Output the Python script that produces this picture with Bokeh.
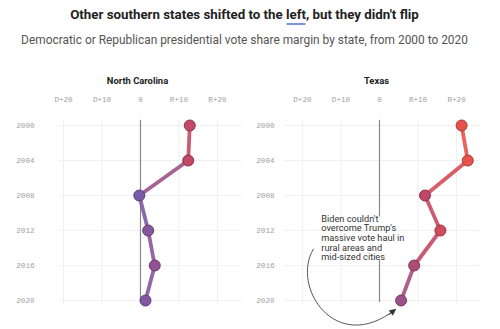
from bokeh.plotting import figure
from bokeh.layouts import column, row
from bokeh.models import Range1d, FixedTicker, Arrow, NormalHead
from bokeh.core.properties import value
from bokeh.embed import file_html
from bokeh.resources import INLINE

# ---------------- data ----------------
years = [2000, 2004, 2008, 2012, 2016, 2020]
nc_margin = [12.8, 12.4, -0.3, 2.0, 3.7, 1.3]   # + = Republican margin
tx_margin = [21.3, 22.9, 11.8, 15.8, 9.0, 5.6]
x_ticks = [-20, -10, 0, 10, 20]
x_tick_labels = ["D+20", "D+10", "0", "R+10", "R+20"]
states = ["North Carolina", "Texas"]
title = "Other southern states shifted to the left, but they didn't flip"
subtitle = "Democratic or Republican presidential vote share margin by state, from 2000 to 2020"
note = ["Biden couldn't", "overcome Trump's", "massive vote haul in", "rural areas and", "mid-sized cities"]

# ---------------- colour scale ----------------
stops = [(0, (122, 90, 168)), (12, (192, 72, 104)), (22, (232, 82, 74))]

def rgb(v):
    v = max(stops[0][0], min(stops[-1][0], v))
    for (a, ca), (b, cb) in zip(stops[:-1], stops[1:]):
        if a <= v <= b:
            t = (v - a) / (b - a)
            return tuple(int(round(ca[k] + t * (cb[k] - ca[k]))) for k in range(3))
    return stops[-1][1]

def hexc(c, f=1.0):
    return "#%02x%02x%02x" % tuple(int(max(0, min(255, x * f))) for x in c)

FONT = value("Roboto")

# ---------------- header ----------------
HEADER_H = 92
h = figure(width=500, height=HEADER_H, x_range=Range1d(0, 500), y_range=Range1d(HEADER_H, 0),
           x_axis_location=None, y_axis_location=None, toolbar_location=None,
           output_backend="svg", min_border=0)
h.grid.visible = False
h.outline_line_color = None
h.text(x=[244], y=[14], text=[title], text_font=FONT, text_font_style="bold",
       text_font_size="13.3px", text_align="center", text_baseline="middle", text_color="#222222")
h.segment(x0=[286], y0=[23.5], x1=[305], y1=[23.5], line_color="#4a72c4", line_width=1.5)
h.text(x=[244], y=[39], text=[subtitle], text_font=FONT, text_font_size="11.9px",
       text_align="center", text_baseline="middle", text_color="#555555")
h.text(x=[137, 376], y=[80, 80], text=states, text_font=FONT, text_font_style="bold",
       text_font_size="9.4px", text_align="center", text_baseline="middle", text_color="#222222")

# ---------------- panels ----------------
PX_PER_YEAR = 8.75
FRAME_TOP_OFFSET = 12      # px between frame top and year 2000
FRAME_H = 217

def panel(margins, xs, xe, min_left, frame_w, min_right, y_standoff, texas=False):
    y_top = years[0] - FRAME_TOP_OFFSET / PX_PER_YEAR
    y_bot = y_top + FRAME_H / PX_PER_YEAR
    p = figure(frame_width=frame_w, frame_height=FRAME_H,
               x_range=Range1d(xs, xe), y_range=Range1d(y_bot, y_top),
               x_axis_location="above", y_axis_location="left",
               min_border_left=min_left, min_border_right=min_right,
               min_border_top=20, min_border_bottom=0,
               toolbar_location=None, output_backend="svg")
    p.outline_line_color = None
    p.grid.visible = False
    p.xaxis.ticker = FixedTicker(ticks=x_ticks)
    p.xaxis.major_label_overrides = {t: l for t, l in zip(x_ticks, x_tick_labels)}
    p.yaxis.ticker = FixedTicker(ticks=years)
    for ax in (p.xaxis[0], p.yaxis[0]):
        ax.axis_line_color = None
        ax.major_tick_line_color = None
        ax.minor_tick_line_color = None
        ax.major_label_text_font = "Liberation Mono"
        ax.major_label_text_font_size = "7.6px"
        ax.major_label_text_color = "#a0a0a0"
    p.xaxis.major_label_standoff = 4
    p.yaxis.major_label_standoff = y_standoff

    # faint grid
    gx = [t for t in x_ticks if t != 0]
    p.segment(x0=gx, y0=[years[0] - 0.6] * len(gx), x1=gx, y1=[years[-1] + 0.6] * len(gx),
              line_color="#f0f0f0", line_width=1)
    p.segment(x0=[xs + 0.2] * len(years), y0=years, x1=[xe - 0.2] * len(years), y1=years,
              line_color="#f0f0f0", line_width=1)

    # zero line
    if texas:
        p.segment(x0=[0, 0], y0=[years[0] - 0.65, 2015.3], x1=[0, 0], y1=[2010.4, years[-1] + 0.2],
                  line_color="#8a8a8a", line_width=1.2)
    else:
        p.segment(x0=[0], y0=[years[0] - 0.65], x1=[0], y1=[years[-1]],
                  line_color="#8a8a8a", line_width=1.2)

    # connecting line, one segment per interval, coloured by its mean margin
    seg_col = [hexc(rgb((a + b) / 2)) for a, b in zip(margins[:-1], margins[1:])]
    p.segment(x0=margins[:-1], y0=years[:-1], x1=margins[1:], y1=years[1:],
              line_color=seg_col, line_width=3.8, line_alpha=0.9, line_cap="round")

    fills = [hexc(rgb(v)) for v in margins]
    outl = [hexc(rgb(v), 0.72) for v in margins]
    p.scatter(x=margins, y=years, size=11, fill_color=fills, line_color=outl, line_width=1)

    if texas:
        p.text(x=[-15.1] * len(note), y=[2010.6] * len(note), text=note,
               y_offset=[i * 9.6 for i in range(len(note))],
               text_font=FONT, text_font_size="9.2px", text_color="#333333",
               text_baseline="middle", text_align="left")
        # curved arrow
        P0 = (-17.1, 2014.1); P1 = (-23.1, 2018.4); P2 = (-11.4, 2026.4); P3 = (4.2, 2021.0)
        p.bezier(x0=[P0[0]], y0=[P0[1]], x1=[P3[0]], y1=[P3[1]], cx0=[P1[0]], cy0=[P1[1]],
                 cx1=[P2[0]], cy1=[P2[1]], line_color="#444444", line_width=0.9)
        d = 0.12
        p.add_layout(Arrow(end=NormalHead(size=6, fill_color="#333333", line_color="#333333", line_width=0.5),
                           x_start=P3[0] - d * (P3[0] - P2[0]), y_start=P3[1] - d * (P3[1] - P2[1]),
                           x_end=P3[0], y_end=P3[1], line_color="#444444", line_width=0.9))
    return p

nc = panel(nc_margin, -21.3, 26.5, 58, 184, 8, 18)
tx = panel(tx_margin, -24.9, 26.2, 33, 197, 20, 3, texas=True)

layout = column(h, row(nc, tx, spacing=0), spacing=0)
open("out.html", "w").write(file_html(layout, INLINE))
